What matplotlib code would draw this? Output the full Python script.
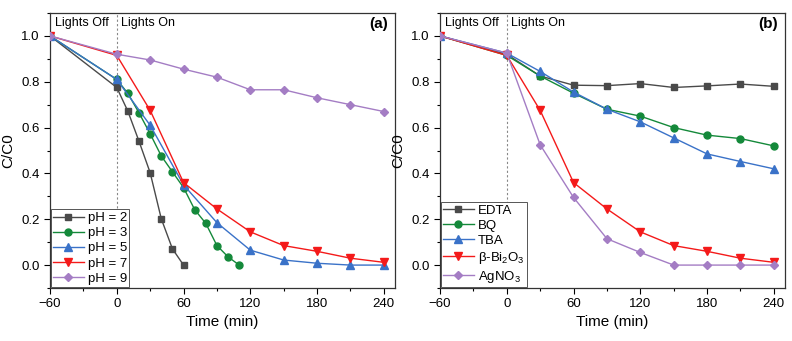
import matplotlib
matplotlib.use("Agg")
import matplotlib.pyplot as plt
from matplotlib.ticker import MultipleLocator

plt.rcParams['font.family'] = ['Liberation Sans', 'DejaVu Sans']
plt.rcParams['mathtext.fontset'] = 'custom'
plt.rcParams['mathtext.rm'] = 'Liberation Sans'

# Panel (a) data
t_ph2 = [-60, 0, 10, 20, 30, 40, 50, 60]
ph2 = [1.0, 0.775, 0.671, 0.54, 0.403, 0.202, 0.071, 0.0]
t_ph3 = [-60, 0, 10, 20, 30, 40, 50, 60, 70, 80, 90, 100, 110]
ph3 = [1.0, 0.81, 0.749, 0.664, 0.573, 0.476, 0.407, 0.338, 0.242, 0.182, 0.085, 0.036, 0.0]
t_std = [-60, 0, 30, 60, 90, 120, 150, 180, 210, 240]
ph5 = [1.0, 0.81, 0.61, 0.35, 0.185, 0.065, 0.022, 0.008, 0.0, 0.0]
ph7 = [1.0, 0.915, 0.675, 0.36, 0.245, 0.145, 0.085, 0.06, 0.03, 0.012]
ph9 = [1.0, 0.92, 0.895, 0.855, 0.82, 0.765, 0.765, 0.73, 0.70, 0.67]

# Panel (b) data
edta = [1.0, 0.92, 0.825, 0.785, 0.783, 0.792, 0.775, 0.782, 0.79, 0.78]
bq = [1.0, 0.915, 0.825, 0.75, 0.68, 0.65, 0.60, 0.567, 0.552, 0.52]
tba = [1.0, 0.925, 0.845, 0.755, 0.68, 0.625, 0.555, 0.485, 0.452, 0.42]
bbi = [1.0, 0.915, 0.675, 0.36, 0.245, 0.145, 0.085, 0.06, 0.03, 0.012]
agno3 = [1.0, 0.925, 0.525, 0.295, 0.115, 0.055, 0.0, 0.0, 0.0, 0.0]

labels_a = ['pH = 2', 'pH = 3', 'pH = 5', 'pH = 7', 'pH = 9']
labels_b = ['EDTA', 'BQ', 'TBA', r'β-Bi$_2$O$_3$', r'AgNO$_3$']
xticks = [-60, 0, 60, 120, 180, 240]
yticks = [0.0, 0.2, 0.4, 0.6, 0.8, 1.0]

colors = ['#4a4a4a', '#14893a', '#3a72c8', '#f41a1a', '#a47dc4']
markers = ['s', 'o', '^', 'v', 'D']
msizes = [4.4, 5, 5.6, 5.6, 4.4]

fig = plt.figure(figsize=(7.92, 3.41), dpi=100)
W, H = 792, 341
ax_a = fig.add_axes([50 / W, 1 - 288 / H, 345 / W, 275 / H])
ax_b = fig.add_axes([440 / W, 1 - 288 / H, 345 / W, 275 / H])

series_a = [(t_ph2, ph2), (t_ph3, ph3), (t_std, ph5), (t_std, ph7), (t_std, ph9)]
series_b = [(t_std, edta), (t_std, bq), (t_std, tba), (t_std, bbi), (t_std, agno3)]

for ax, series, labels, tag in [(ax_a, series_a, labels_a, '(a)'), (ax_b, series_b, labels_b, '(b)')]:
    ax.axvline(0, color='#888888', lw=0.8, ls=(0, (2, 2)), zorder=1)
    for (x, y), lab, c, m, ms in zip(series, labels, colors, markers, msizes):
        ax.plot(x, y, color=c, marker=m, ms=ms, lw=1.0, label=lab, zorder=3)
    ax.set_xlim(-60, 250)
    ax.set_ylim(-0.1, 1.1)
    ax.set_xticks(xticks)
    ax.set_xticklabels(['\u221260', '0', '60', '120', '180', '240'])
    ax.set_yticks(yticks)
    ax.set_yticklabels([f'{v:.1f}' for v in yticks])
    ax.xaxis.set_minor_locator(MultipleLocator(30))
    ax.yaxis.set_minor_locator(MultipleLocator(0.1))
    ax.tick_params(axis='both', which='major', direction='out', length=4, width=0.8,
                   labelsize=9.5, top=False, right=False)
    ax.tick_params(axis='both', which='minor', direction='out', length=2.5, width=0.8,
                   top=False, right=False)
    for s in ax.spines.values():
        s.set_linewidth(0.9)
        s.set_color('#333333')
    ax.set_xlabel('Time (min)', fontsize=11, labelpad=3)
    ax.set_ylabel('C/C0', fontsize=11, labelpad=4)
    ax.text(-55.5, 1.055, 'Lights Off', fontsize=9, ha='left', va='center')
    ax.text(4, 1.055, 'Lights On', fontsize=9, ha='left', va='center')
    ax.text(0.98, 0.96, tag, transform=ax.transAxes, fontsize=11, fontweight='bold',
            ha='right', va='center')
    leg = ax.legend(loc='lower left', fontsize=9.5, frameon=True, fancybox=False,
                    edgecolor='#555555', framealpha=1.0, borderpad=0.2, labelspacing=0.22,
                    handlelength=2.3, handletextpad=0.3, borderaxespad=0.05)
    leg.get_frame().set_linewidth(0.7)

fig.savefig('out.png', dpi=100)
